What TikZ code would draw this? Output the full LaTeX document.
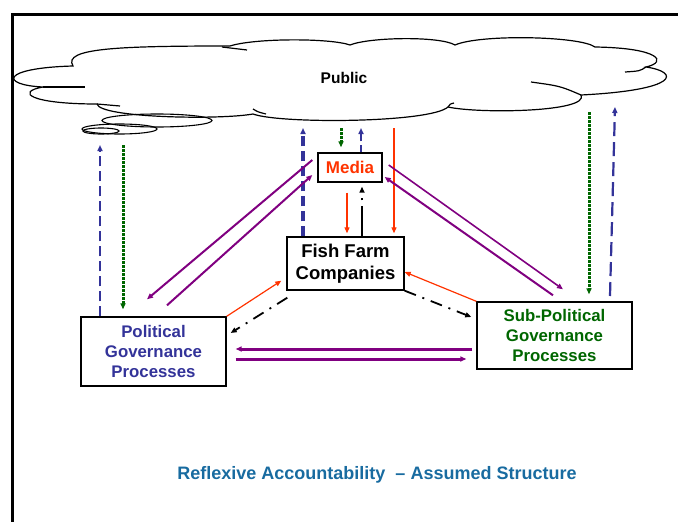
\documentclass[tikz,border=0pt]{standalone}
\usepackage{fontspec}
\setmainfont{Liberation Sans}
\usetikzlibrary{arrows.meta, positioning}

\definecolor{polblue}{RGB}{51,51,153}
\definecolor{subgreen}{RGB}{0,102,0}
\definecolor{medred}{RGB}{255,51,0}
\definecolor{linkpurple}{RGB}{128,0,128}
\definecolor{titleblue}{RGB}{24,107,160}

\begin{document}
\begin{tikzpicture}[x=1pt, y=-1pt,
  box/.style={draw, line width=1.4pt, rectangle, align=center, font=\bfseries},
  tip/.style={-{Triangle[length=6pt,width=5pt]}},
  bluedash/.style={tip, polblue, line width=1.5pt, dash pattern=on 10pt off 5pt},
  greendot/.style={tip, subgreen, line width=3pt, dash pattern=on 2.5pt off 1.5pt},
  redline/.style={tip, medred, line width=1.2pt},
  blackdash/.style={tip, black, line width=1.8pt, dash pattern=on 12pt off 7pt on 2pt off 7pt},
  purple/.style={tip, linkpurple, line width=2pt}]

  \useasboundingbox (0,0) rectangle (678,522);

  % frame
  \draw[line width=3pt] (12,522) -- (12,14) -- (678,14);

  % the public
  \draw[line width=1.2pt, fill=white] (73,66) .. controls (62,48) and (120,46) .. (230,46)
    .. controls (255,38) and (330,38) .. (350,45)
    .. controls (370,37) and (440,36) .. (455,45)
    .. controls (480,34) and (580,36) .. (595,47)
    .. controls (660,48) and (668,62) .. (646,67)
    .. controls (680,72) and (680,90) .. (581,95)
    .. controls (590,112) and (480,114) .. (448,107)
    .. controls (430,123) and (280,124) .. (253,114)
    .. controls (220,120) and (100,118) .. (97,104)
    .. controls (30,104) and (15,92) .. (43,87)
    .. controls (0,85) and (0,68) .. (73,66) -- cycle;
  \draw[line width=1.2pt] (222,47) -- (247,50);
  \draw[line width=1.2pt] (43,87) -- (85,87);
  \draw[line width=1.2pt] (97,104) -- (120,106);
  \draw[line width=1.2pt] (253,109) .. controls (258,112) .. (266,114);
  \draw[line width=1.2pt] (646,67) .. controls (640,71) .. (625,72);
  \draw[line width=1.2pt] (531,82) .. controls (560,86) .. (581,95);
  \draw[line width=1.2pt] (448,107) .. controls (450,104) .. (454,103);
  \node[font=\bfseries\fontsize{15.5}{18}\selectfont] (public) at (344,78) {Public};
  \draw[line width=1.1pt] (157,120.5) ellipse (55 and 6.5);
  \draw[line width=1.1pt] (119.5,129) ellipse (37.5 and 5);
  \draw[line width=1.1pt] (101,131) ellipse (18 and 3);

  % actors
  \node[box, minimum width=64, minimum height=29, text=medred,
        font=\bfseries\fontsize{17}{19}\selectfont] (media) at (350,167.5) {Media};
  \node[box, minimum width=117, minimum height=53,
        font=\bfseries\fontsize{18.5}{22}\selectfont] (fish) at (345.5,263.5) {Fish Farm\\Companies};
  \node[box, minimum width=145, minimum height=69, text=polblue,
        font=\bfseries\fontsize{16.8}{20}\selectfont] (pol) at (153.5,351.5) {Political\\Governance\\Processes};
  \node[box, minimum width=155, minimum height=67, text=subgreen,
        font=\bfseries\fontsize{16.8}{20}\selectfont] (sub) at (554.5,335.5) {Sub-Political\\Governance\\Processes};

  % free ends below the cloud
  \coordinate (polup) at (100,145);
  \coordinate (poldown) at (123,145);
  \coordinate (fishup) at (303,128);
  \coordinate (meddown) at (341,128);
  \coordinate (medup) at (361,128);
  \coordinate (reddown) at (394,128);
  \coordinate (subdown) at (589,112);
  \coordinate (subup) at (615,107);
  \coordinate (subfoot) at (610,296);

  % links with the public
  \draw[bluedash] (polup |- pol.north) -- (polup);
  \draw[greendot, shorten >=7pt] (poldown) -- (poldown |- pol.north);
  \draw[bluedash, line width=3.5pt] (fishup |- fish.north) -- (fishup);
  \draw[greendot, shorten >=5pt] (meddown) -- (meddown |- media.north);
  \draw[bluedash, dash pattern=on 7pt off 4pt] (medup |- media.north) -- (medup);
  \draw[redline, shorten >=3pt] (reddown) -- (reddown |- fish.north);
  \draw[greendot, shorten >=7pt] (subdown) -- (subdown |- sub.north);
  \draw[bluedash, line width=2.2pt, dash pattern=on 14pt off 6pt] (subfoot) -- (subup);

  % media and companies
  \draw[redline, shorten <=10pt, shorten >=3pt] ([xshift=-3]media.south) -- ([xshift=-3]media.south |- fish.north);
  \draw[blackdash, dash pattern=on 30pt off 6pt on 2pt off 6pt, shorten >=4pt] ([xshift=16.5]fish.north) -- ([xshift=16.5]fish.north |- media.south);

  % media and governance
  \draw[purple] ([shift={(-5,-7.5)}]media.west) -- ([shift={(-6.5,-17)}]pol.north);
  \draw[purple] ([shift={(13.5,-11)}]pol.north) -- ([shift={(-5,7.5)}]media.west);
  \draw[purple, line width=1.6pt] ([shift={(6,-2.5)}]media.east) -- ([shift={(8.5,-12)}]sub.north);
  \draw[purple] ([shift={(-1.5,-6)}]sub.north) -- ([shift={(2,9.5)}]media.east);

  % companies and governance
  \draw[redline] (sub.north west) -- ([shift={(0,8.5)}]fish.east);
  \draw[redline] (pol.north east) -- ([shift={(-5,-10)}]fish.south west);
  \draw[blackdash] (fish.south east) -- ([shift={(-5,-18.5)}]sub.west);
  \draw[blackdash] ([shift={(1,7)}]fish.south west) -- ([shift={(4,-18.5)}]pol.east);

  % between governance
  \draw[purple, line width=3pt] ([shift={(-4,13.5)}]sub.west) -- ([shift={(9,-2.5)}]pol.east);
  \draw[purple, line width=3pt] ([shift={(9,7.5)}]pol.east) -- ([shift={(-10,23.5)}]sub.west);

  % caption
  \node[text=titleblue, font=\bfseries\fontsize{18}{20}\selectfont] (caption) at (377,475)
    {Reflexive Accountability \ – Assumed Structure};
\end{tikzpicture}
\end{document}
